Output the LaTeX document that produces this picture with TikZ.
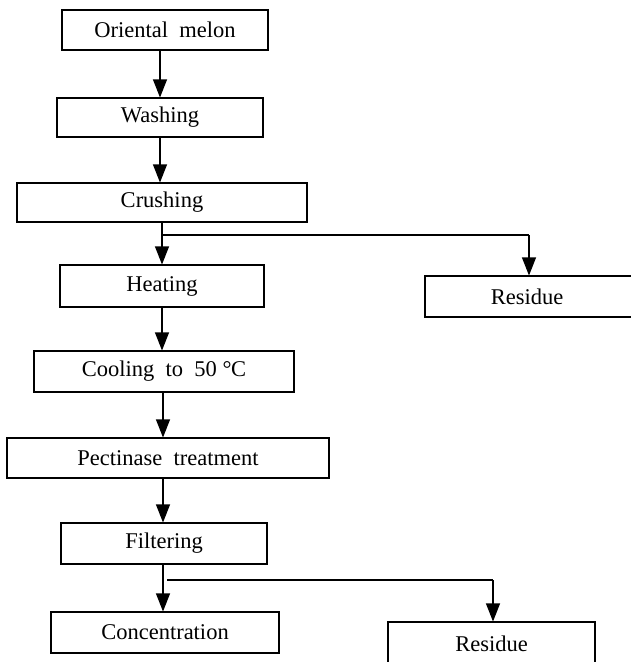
\documentclass[tikz,border=0pt]{standalone}
\usepackage{fontspec}
\setmainfont{Liberation Serif}
\usetikzlibrary{arrows.meta}
\newcommand{\wsp}{\hspace{0.5em}}
\begin{document}
\begin{tikzpicture}[x=1pt,y=-1pt,
  box/.style={draw,line width=1.1pt,inner sep=0pt,font=\fontsize{22.5}{24}\selectfont},
  arr/.style={line width=1.1pt,-{Triangle[length=18pt,width=14pt]}},
  ln/.style={line width=1.1pt}]
\useasboundingbox (0,0) rectangle (630,662);
\node[box,minimum width=206,minimum height=40] (melon) at (165,30) {Oriental\wsp melon};
\node[box,minimum width=206,minimum height=39] (wash) at (160,117.5) {Washing};
\node[box,minimum width=290,minimum height=39] (crush) at (162,202.5) {Crushing};
\node[box,minimum width=204,minimum height=42] (heat) at (162,286) {Heating};
\node[box,minimum width=230,minimum height=41] (res1) at (540,296.5) {};
\node[font=\fontsize{22.5}{24}\selectfont] (res1t) at (527,296.5) {Residue};
\node[box,minimum width=260,minimum height=41] (cool) at (164,371.5) {Cooling\wsp to\wsp 50\hspace{0.25em}°\kern-0.02em C};
\node[box,minimum width=322,minimum height=40] (pect) at (168,458) {Pectinase\wsp treatment};
\node[box,minimum width=206,minimum height=41] (filt) at (164,543.5) {Filtering};
\node[box,minimum width=228,minimum height=41] (conc) at (165,632.5) {Concentration};
\node[box,minimum width=207,minimum height=44] (res2) at (491.5,644) {Residue};
\coordinate (s1) at (160,0);
\coordinate (s2) at (162,0);
\coordinate (s3) at (163,0);
\coordinate (b1) at (162,235);
\coordinate (b1r) at (529,235);
\coordinate (b2) at (167,580);
\coordinate (b2r) at (493,580);
\draw[arr] (melon.south -| s1) -- (wash.north -| s1);
\draw[arr] (wash.south -| s1) -- (crush.north -| s1);
\draw[arr] (crush.south -| s2) -- (heat.north -| s2);
\draw[ln] (b1) -- (b1r);
\draw[arr] (b1r) -- (res1.north -| b1r);
\draw[arr] (heat.south -| s2) -- (cool.north -| s2);
\draw[arr] (cool.south -| s3) -- (pect.north -| s3);
\draw[arr] (pect.south -| s3) -- (filt.north -| s3);
\draw[arr] (filt.south -| s3) -- (conc.north -| s3);
\draw[ln] (b2) -- (b2r);
\draw[arr] (b2r) -- (res2.north -| b2r);
\end{tikzpicture}
\end{document}
